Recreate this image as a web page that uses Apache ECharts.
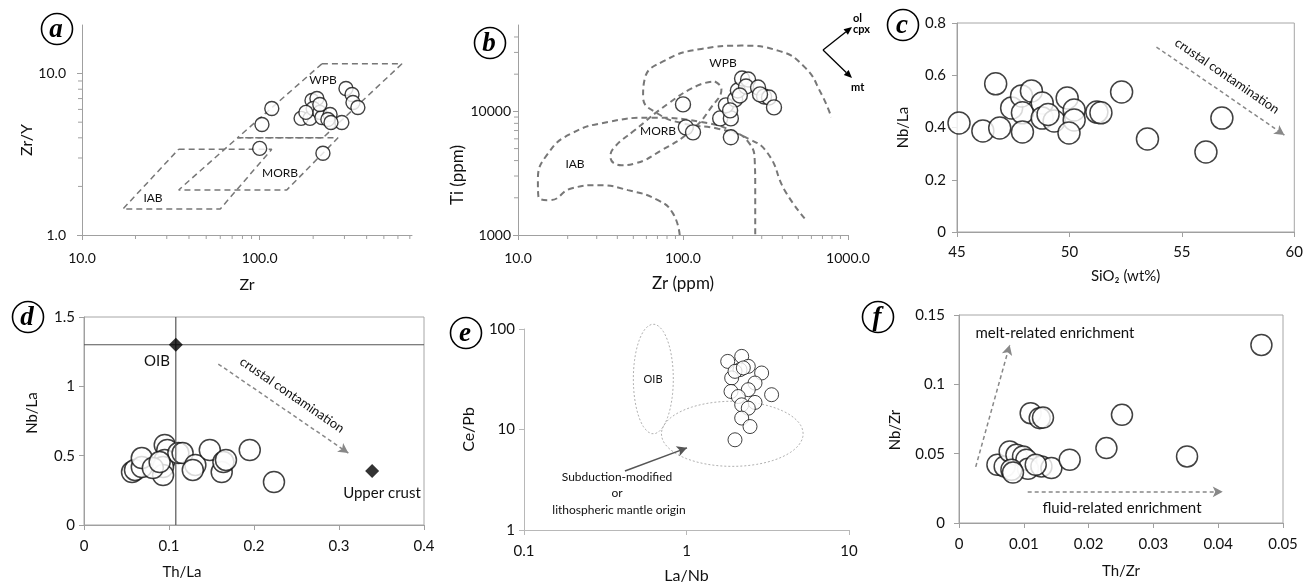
<!DOCTYPE html>
<html>
<head>
<meta charset="utf-8">
<script src="https://cdn.jsdelivr.net/npm/echarts@6/dist/echarts.min.js"></script>
<style>
html, body { margin: 0; padding: 0; background: #fff; }
#main { width: 1306px; height: 585px; }
</style>
</head>
<body>
<div id="main"></div>
<script>
// ---- (a) Zr/Y vs Zr ----
const zrA  = [117, 103, 100, 227, 306, 331, 335, 357, 290, 171, 192, 197, 210, 200, 218, 224, 249, 242, 252, 218, 182];
const zrYA = [6.08, 4.84, 3.44, 3.21, 8.08, 7.42, 6.62, 6.17, 4.98, 5.28, 5.28, 6.81, 7.01, 6.08, 5.75, 5.35, 5.58, 5.20, 4.98, 6.44, 5.75];
const wpbA  = [[224, 11.5], [632, 11.5], [227, 4.0], [75, 4.0], [224, 11.5]];
const morbA = [[75, 4.0], [276, 4.0], [142, 1.9], [35, 1.9], [75, 4.0]];
const iabA  = [[35, 3.4], [117, 3.4], [60, 1.45], [17, 1.45], [35, 3.4]];

// ---- (b) Ti vs Zr ----
const zrB = [100, 104, 115, 168, 195, 195, 182, 207, 215, 228, 248, 241, 285, 310, 332, 356, 193, 221, 293];
const tiB = [11390, 7430, 6770, 8780, 8780, 6170, 11180, 12500, 14770, 18460, 18110, 15900, 15620, 13210, 12970, 10770, 10190, 13460, 13720];
const wpbB = [[546, 1362], [413, 2306], [327, 4565], [248, 6030], [163, 7247], [102, 7960], [70.5, 9570], [57.3, 13060],
  [58.6, 18330], [77.4, 25760], [129, 32000], [226, 34050], [377, 31040], [546, 22810], [689, 13870], [792, 8990]];
const iabB = [[95.5, 1000], [86.9, 1496], [70.5, 1914], [46.4, 2306], [30.6, 2530], [21.0, 2377], [15.6, 1914], [13.3, 2037],
  [13.2, 2780], [15.2, 4565], [21.0, 6610], [35.1, 8200], [64.3, 8890], [129, 8200], [206, 6810], [253, 5480], [272, 4030], [274, 2455], [274, 1000]];
const morbB = [[156, 17460], [171, 15240], [148.6, 10830], [112.5, 7030], [74, 4840], [50.9, 3786], [42.3, 3670], [36.3, 4285],
  [38.5, 5150], [50.9, 7030], [81.1, 11530], [123, 16220], [156, 17460]];

// ---- (c) Nb/La vs SiO2 ----
const sio2C = [45.09, 46.15, 46.90, 46.72, 47.43, 47.87, 48.31, 47.91, 47.91, 48.79, 48.79, 49.32, 49.90, 50.21, 50.21, 49.98, 51.22, 51.40, 52.32, 53.47, 56.07, 56.78, 49.05];
const nbLaC = [0.417, 0.387, 0.398, 0.567, 0.475, 0.521, 0.540, 0.456, 0.383, 0.494, 0.436, 0.425, 0.513, 0.467, 0.429, 0.379, 0.459, 0.456, 0.536, 0.356, 0.306, 0.436, 0.45];

// ---- (d) Nb/La vs Th/La ----
const thLaD = [0.0565, 0.060, 0.068, 0.068, 0.095, 0.098, 0.095, 0.093, 0.093, 0.111, 0.116, 0.131, 0.128, 0.148, 0.162, 0.164, 0.195, 0.2235, 0.081, 0.089, 0.167];
const nbLaD = [0.382, 0.397, 0.418, 0.483, 0.577, 0.541, 0.469, 0.418, 0.360, 0.519, 0.519, 0.433, 0.397, 0.541, 0.382, 0.454, 0.541, 0.310, 0.411, 0.454, 0.469];
const oibD = [0.108, 1.30];
const crustD = [0.339, 0.389];

// ---- (e) Ce/Pb vs La/Nb ----
const laNbE = [1.793, 2.186, 2.40, 2.134, 2.90, 1.897, 2.64, 1.879, 2.40, 2.084, 3.34, 2.64, 2.186, 2.40, 2.186, 2.46, 1.988, 1.988, 2.237];
const cePbE = [47.6, 53.4, 42.5, 39.4, 36.5, 32.6, 29.0, 23.9, 24.9, 21.3, 22.2, 18.6, 17.6, 16.3, 13.0, 10.7, 7.9, 37.9, 41.0];
// ellipses: centre (data) and half-axes (decades)
const oibEll = [0.625, 31.8, 0.123, 0.546];
const smEll  = [1.913, 9.06, 0.436, 0.324];

// ---- (f) Nb/Zr vs Th/Zr ----
const thZrF = [0.00593, 0.00705, 0.00782, 0.00886, 0.00988, 0.0104, 0.01065, 0.00809, 0.00833, 0.01272, 0.01426, 0.01708, 0.01106, 0.01245, 0.01296, 0.02275, 0.02515, 0.03519, 0.04667, 0.01184];
const nbZrF = [0.0420, 0.0408, 0.0516, 0.0492, 0.0480, 0.0456, 0.0391, 0.0384, 0.0364, 0.0408, 0.0396, 0.0456, 0.0792, 0.0756, 0.0760, 0.0540, 0.0780, 0.0480, 0.1284, 0.0420];

// log-axis minor ticks
const minorXA = [20, 30, 40, 50, 60, 70, 80, 90, 200, 300, 400, 500, 600, 700];
const minorYA = [2, 3, 4, 5, 6, 7, 8, 9];
const minorXB = [20, 30, 40, 50, 60, 70, 80, 90, 200, 300, 400, 500, 600, 700, 800, 900];
const minorYB = [2000, 3000, 4000, 5000, 6000, 7000, 8000, 9000, 20000, 30000, 40000];

const FONT = 'Lato, "Open Sans", sans-serif';
const AX = '#a0a0a0';
const INK = '#111';

function mkAxis(o) {
  const col = o.lineColor || AX;
  const ax = {
    gridIndex: o.g,
    type: o.type || 'value',
    min: o.min, max: o.max,
    name: o.name, nameLocation: 'middle', nameGap: o.gap,
    nameTextStyle: { color: INK, fontSize: o.nameSize || 16, fontFamily: FONT, padding: o.namePad || 0 },
    axisLine: { show: true, onZero: false, lineStyle: { color: col, width: 1 } },
    axisTick: { show: true, length: 5, lineStyle: { color: col } },
    splitLine: { show: false },
    axisLabel: { color: INK, fontSize: o.size || 14, fontFamily: FONT, margin: o.margin, formatter: o.fmt }
  };
  if (o.type === 'log') ax.logBase = 10;
  if (o.interval) ax.interval = o.interval;
  if (o.hideMax) ax.axisLabel.showMaxLabel = false;
  return ax;
}

const fix1 = v => (Math.round(v * 10) / 10).toFixed(1);
const intf = v => String(Math.round(v));
const prec = v => String(+Number(v).toPrecision(2));

function dots(g, xs, ys, size, bw) {
  return {
    type: 'scatter', xAxisIndex: g, yAxisIndex: g, symbol: 'circle', symbolSize: size, z: 5, silent: true,
    data: xs.map((x, i) => [x, ys[i]]),
    itemStyle: { color: '#fff', borderColor: '#111', borderWidth: bw }
  };
}

function field(g, pts, smooth, width, color, dash) {
  return {
    type: 'line', xAxisIndex: g, yAxisIndex: g, data: pts, symbol: 'none', showSymbol: false,
    smooth: smooth, z: 2, silent: true, clip: false,
    lineStyle: { color: color || '#777', width: width, type: dash || [6, 4] }
  };
}

function ellipse(g, e) {
  const pts = [];
  const lx = Math.log10(e[0]), ly = Math.log10(e[1]);
  for (let k = 0; k <= 72; k++) {
    const t = 2 * Math.PI * k / 72;
    pts.push([Math.pow(10, lx + e[2] * Math.cos(t)), Math.pow(10, ly + e[3] * Math.sin(t))]);
  }
  return field(g, pts, false, 1, '#b0b0b0', [2, 2]);
}

function minorTicks(g, dim, vals, fixed) {
  return {
    type: 'custom', xAxisIndex: g, yAxisIndex: g, clip: false, silent: true, z: 3,
    data: vals.map(v => dim === 'x' ? [v, fixed] : [fixed, v]),
    renderItem: function (params, api) {
      const p = api.coord([api.value(0), api.value(1)]);
      const shape = dim === 'x'
        ? { x1: p[0], y1: p[1], x2: p[0], y2: p[1] + 4 }
        : { x1: p[0] - 4, y1: p[1], x2: p[0], y2: p[1] };
      return { type: 'line', shape: shape, style: { stroke: AX, lineWidth: 1 } };
    }
  };
}

function arrow(g, from, to, color, dashed) {
  return {
    type: 'line', xAxisIndex: g, yAxisIndex: g, data: [], silent: true,
    markLine: {
      silent: true, animation: false, symbol: ['none', 'arrow'], symbolSize: [8, 10],
      label: { show: false },
      lineStyle: { color: color, width: 1.5, type: dashed ? [4, 3] : 'solid' },
      data: [[{ coord: from }, { coord: to }]]
    }
  };
}

function refLine(g, pts) {
  return { type: 'line', xAxisIndex: g, yAxisIndex: g, data: pts, symbol: 'none', silent: true, z: 6,
    lineStyle: { color: '#555', width: 1.2 } };
}

function txt(x, y, s, size, opts) {
  opts = opts || {};
  return {
    type: 'text', x: x, y: y, rotation: opts.rot || 0, z: 50,
    style: {
      text: s, fill: opts.color || INK, font: (opts.weight || 'normal') + ' ' + size + 'px ' + (opts.family || FONT),
      align: opts.align || 'center', verticalAlign: 'middle',
      textAlign: opts.align || 'center', textVerticalAlign: 'middle'
    }
  };
}

function badge(x, y, letter) {
  return [
    { type: 'circle', z: 50, shape: { cx: x, cy: y, r: 15.5 }, style: { fill: '#fff', stroke: '#000', lineWidth: 1.6 } },
    txt(x - 1, y + 1, letter, 27, { weight: 'italic bold', family: '"Liberation Serif", "DejaVu Serif", serif', color: '#000' })
  ];
}

function pxArrow(x1, y1, x2, y2) {
  const a = Math.atan2(y2 - y1, x2 - x1), L = 8, W = 3.5;
  const bx = x2 - L * Math.cos(a), by = y2 - L * Math.sin(a);
  return [
    { type: 'line', z: 50, shape: { x1: x1, y1: y1, x2: bx, y2: by }, style: { stroke: '#000', lineWidth: 1.3 } },
    { type: 'polygon', z: 50, shape: { points: [[x2, y2], [bx + W * Math.sin(a), by - W * Math.cos(a)], [bx - W * Math.sin(a), by + W * Math.cos(a)]] },
      style: { fill: '#000' } }
  ];
}

const chart = echarts.init(document.getElementById('main'), null, { renderer: 'canvas' });

const boxed = { show: true, borderColor: '#a6a6a6', borderWidth: 1, backgroundColor: 'transparent' };

const option = {
  animation: false,
  backgroundColor: '#fff',
  grid: [
    { left: 82, top: 25, width: 330, height: 210 },
    { left: 518, top: 25, width: 330, height: 210 },
    Object.assign({ left: 957, top: 23, width: 340, height: 209 }, boxed),
    Object.assign({ left: 84, top: 317, width: 340, height: 208 }, boxed),
    { left: 524, top: 329, width: 325, height: 201 },
    Object.assign({ left: 959, top: 315, width: 324, height: 208 }, boxed)
  ],
  xAxis: [
    mkAxis({ g: 0, type: 'log', min: 10, max: 720, name: 'Zr', gap: 42, margin: 16, fmt: fix1, hideMax: true }),
    mkAxis({ g: 1, type: 'log', min: 10, max: 1000, name: 'Zr (ppm)', gap: 40, nameSize: 17, margin: 16, fmt: fix1 }),
    mkAxis({ g: 2, min: 45, max: 60, interval: 5, name: 'SiO₂ (wt%)', gap: 37, nameSize: 15, size: 15, margin: 13 }),
    mkAxis({ g: 3, min: 0, max: 0.4, interval: 0.1, name: 'Th/La', gap: 40, nameSize: 15, size: 15, margin: 14, namePad: [0, 144, 0, 0] }),
    mkAxis({ g: 4, type: 'log', min: 0.1, max: 10, name: 'La/Nb', gap: 38, size: 15, margin: 14, fmt: prec, lineColor: '#b8b8b8' }),
    mkAxis({ g: 5, min: 0, max: 0.05, interval: 0.01, name: 'Th/Zr', gap: 41, nameSize: 15, size: 15, margin: 14 })
  ],
  yAxis: [
    mkAxis({ g: 0, type: 'log', min: 1, max: 20, name: 'Zr/Y', gap: 47, margin: 16, fmt: fix1, hideMax: true, namePad: [0, 20, 0, 0] }),
    mkAxis({ g: 1, type: 'log', min: 1000, max: 50000, name: 'Ti (ppm)', gap: 41, nameSize: 17, margin: 7, fmt: intf, hideMax: true, namePad: [0, 90, 0, 0] }),
    mkAxis({ g: 2, min: 0, max: 0.8, interval: 0.2, name: 'Nb/La', gap: 46, nameSize: 15, size: 15, margin: 11 }),
    mkAxis({ g: 3, min: 0, max: 1.5, interval: 0.5, name: 'Nb/La', gap: 44, nameSize: 15, size: 15, margin: 9, namePad: [0, 0, 0, 16] }),
    mkAxis({ g: 4, type: 'log', min: 1, max: 100, name: 'Ce/Pb', gap: 47, size: 15, margin: 9, fmt: prec, lineColor: '#b8b8b8' }),
    mkAxis({ g: 5, min: 0, max: 0.15, interval: 0.05, name: 'Nb/Zr', gap: 56, nameSize: 15, size: 15, margin: 14, namePad: [0, 22, 0, 0] })
  ],
  series: [
    // (a)
    field(0, wpbA, false, 1.5), field(0, morbA, false, 1.5), field(0, iabA, false, 1.5),
    minorTicks(0, 'x', minorXA, 1), minorTicks(0, 'y', minorYA, 10),
    dots(0, zrA, zrYA, 14, 1.4),
    // (b)
    field(1, wpbB, 0.5, 2), field(1, iabB, 0.5, 2), field(1, morbB, 0.5, 2),
    minorTicks(1, 'x', minorXB, 1000), minorTicks(1, 'y', minorYB, 10),
    dots(1, zrB, tiB, 15, 1.4),
    // (c)
    arrow(2, [53.87, 0.708], [59.56, 0.371], '#888', true),
    dots(2, sio2C, nbLaC, 22, 1.5),
    // (d)
    arrow(3, [0.158, 1.161], [0.311, 0.519], '#888', true),
    dots(3, thLaD, nbLaD, 21, 1.5),
    refLine(3, [[0, 1.3], [0.4, 1.3]]), refLine(3, [[0.108, 0], [0.108, 1.5]]),
    { type: 'scatter', xAxisIndex: 3, yAxisIndex: 3, symbol: 'diamond', symbolSize: 14, z: 7, silent: true,
      data: [oibD, crustD], itemStyle: { color: '#000' } },
    // (e)
    ellipse(4, oibEll), ellipse(4, smEll),
    arrow(4, [0.418, 3.87], [1.007, 6.57], '#555', false),
    dots(4, laNbE, cePbE, 14, 1),
    // (f)
    arrow(5, [0.00258, 0.0405], [0.00782, 0.1284], '#888', true),
    arrow(5, [0.0106, 0.0225], [0.0407, 0.0225], '#888', true),
    dots(5, thZrF, nbZrF, 21, 1.5)
  ],
  graphic: [].concat(
    badge(57, 29, 'a'), badge(490, 43, 'b'), badge(903, 25, 'c'),
    badge(28, 317, 'd'), badge(466, 333, 'e'), badge(878, 317, 'f'),
    // (a) field names
    txt(323, 80, 'WPB', 12), txt(280, 173, 'MORB', 12), txt(153, 198, 'IAB', 12),
    // (b) field names and vectors
    txt(723, 63, 'WPB', 12), txt(658, 131, 'MORB', 12), txt(575, 164, 'IAB', 12),
    pxArrow(823, 50, 852, 27), pxArrow(823, 50, 852, 78),
    txt(853, 18, 'ol', 11, { align: 'left', weight: 'bold', color: '#000' }),
    txt(853, 29, 'cpx', 11, { align: 'left', weight: 'bold', color: '#000' }),
    txt(851, 87, 'mt', 11, { align: 'left', weight: 'bold', color: '#000' }),
    // (c)
    txt(1227, 76, 'crustal contamination', 13, { rot: -0.6 }),
    // (d)
    txt(157, 361, 'OIB', 15), txt(382, 493, 'Upper crust', 15),
    txt(292, 395, 'crustal contamination', 13, { rot: -0.6 }),
    // (e)
    txt(653, 379, 'OIB', 11),
    txt(617, 477, 'Subduction-modified', 12), txt(617, 493, 'or', 12), txt(619, 510, 'lithospheric mantle origin', 12),
    // (f)
    txt(1055, 333, 'melt-related enrichment', 15),
    txt(1122, 508, 'fluid-related enrichment', 15)
  )
};

chart.setOption(option);
</script>
</body>
</html>
